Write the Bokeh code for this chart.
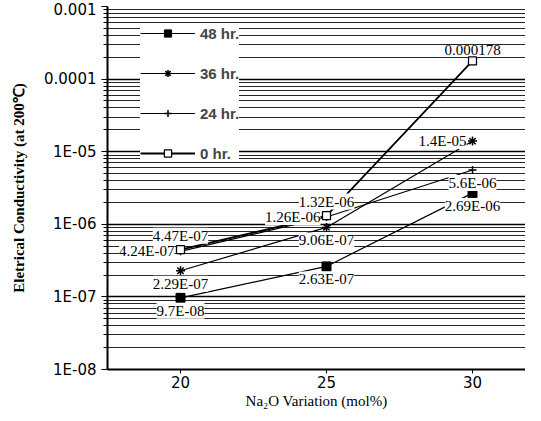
from bokeh.plotting import figure
from bokeh.models import (ColumnDataSource, LabelSet, Legend, LegendItem, FixedTicker,
                          CustomJSTickFormatter, Range1d)
from bokeh.embed import file_html
from bokeh.resources import INLINE

# ---- data ----
x_values = [20, 25, 30]
series_names = ["48 hr.", "36 hr.", "24 hr.", "0 hr."]
s48 = [9.7e-08, 2.63e-07, 2.69e-06]
s36 = [2.29e-07, 9.06e-07, 1.4e-05]
s24 = [4.24e-07, 1.26e-06, 5.6e-06]
s0 = [4.47e-07, 1.32e-06, 0.000178]
y_ticks = [1e-08, 1e-07, 1e-06, 1e-05, 1e-04, 1e-03]
y_tick_labels = ["1E-08", "1E-07", "1E-06", "1E-05", "0.0001", "0.001"]
x_ticks = [20, 25, 30]

# label placement per point (style)
place48 = ["below", "below", "below"]
place36 = ["below", "below", "left"]
place24 = ["left", "left", "below"]
place0 = ["above", "above", "above"]

FW = 418
p = figure(frame_width=FW, frame_height=363, y_axis_type="log", output_backend="svg",
           toolbar_location=None, x_range=Range1d(17.5, 17.5 + FW / 29.2),
           y_range=Range1d(1e-08, 1e-03),
           min_border_left=107, min_border_right=0, min_border_top=6, min_border_bottom=38)
p.outline_line_color = None
p.background_fill_color = "white"

# axes
minor = [k * 10.0 ** n for n in range(-8, -3) for k in range(2, 10)]
p.yaxis.ticker = FixedTicker(ticks=y_ticks, minor_ticks=minor)
p.yaxis.formatter = CustomJSTickFormatter(args=dict(tvals=y_ticks, tlabels=y_tick_labels), code="""
for (let i = 0; i < tvals.length; i++) {
  if (Math.abs(Math.log10(tick) - Math.log10(tvals[i])) < 1e-6) return tlabels[i];
}
return '';
""")
p.xaxis.ticker = FixedTicker(ticks=x_ticks, minor_ticks=[])
for ax in (p.xaxis[0], p.yaxis[0]):
    ax.axis_line_color = "black"
    ax.axis_line_width = 2
    ax.major_tick_line_color = "black"
    ax.major_tick_in = 0
    ax.major_tick_out = 6
    ax.minor_tick_in = 0
    ax.minor_tick_out = 4
    ax.minor_tick_line_color = "black"
    ax.major_label_text_font = "DejaVu Sans"
    ax.major_label_text_font_size = "15px"
    ax.major_label_text_color = "black"
    ax.axis_label_text_font = "Liberation Serif"
    ax.axis_label_text_font_size = "15px"
    ax.axis_label_text_color = "black"
p.xaxis.minor_tick_line_color = None
p.xaxis.major_tick_out = 4
p.xaxis.major_label_standoff = 2
p.yaxis.major_label_standoff = 5
p.yaxis.axis_label = "Eletrical Conductivity (at 200\u2103)"
p.yaxis.axis_label_text_font_style = "bold"
p.yaxis.axis_label_standoff = 14
p.xaxis.axis_label = "Na\u2082O Variation (mol%)"
p.xaxis.axis_label_text_font_style = "normal"
p.xaxis.axis_label_standoff = 2

# grid
p.xgrid.grid_line_color = None
p.ygrid.grid_line_color = "black"
p.ygrid.grid_line_width = 1.5
p.ygrid.minor_grid_line_color = "black"
p.ygrid.minor_grid_line_width = 1
p.ygrid.minor_grid_line_alpha = 0.85

series = [
    (s48, place48, dict(marker="square", size=9, fill_color="black", line_color="black"), 1.2),
    (s36, place36, dict(marker="asterisk", size=9, line_color="black", line_width=1.5), 1.2),
    (s24, place24, dict(marker="cross", size=8, line_color="black", line_width=1.5), 1.2),
    (s0, place0, dict(marker="square", size=8, fill_color="white", line_color="black", line_width=1.3), 1.8),
]

items = []
for name, (vals, places, mk, lw) in zip(series_names, series):
    src = ColumnDataSource(dict(x=x_values, y=vals))
    ln = p.line("x", "y", source=src, line_color="black", line_width=lw)
    sc = p.scatter("x", "y", source=src, **mk)
    items.append(LegendItem(label=name, renderers=[ln, sc]))
    for pl in ("above", "below", "left"):
        idx = [i for i, q in enumerate(places) if q == pl]
        if not idx:
            continue
        sub = ColumnDataSource(dict(x=[x_values[i] for i in idx], y=[vals[i] for i in idx],
                                    t=[f"{vals[i]:.3G}" for i in idx]))
        kw = dict(text_align="center", text_baseline="bottom", x_offset=0, y_offset=6)
        if pl == "below":
            kw = dict(text_align="center", text_baseline="top", x_offset=0, y_offset=-5)
        elif pl == "left":
            kw = dict(text_align="right", text_baseline="middle", x_offset=-6, y_offset=0)
        ls = LabelSet(x="x", y="y", text="t", source=sub, text_font="DejaVu Sans",
                      text_font_size="15px", text_color="black",
                      background_fill_color="white", **kw)
        p.add_layout(ls)

legend = Legend(items=items, location=(33, 207), orientation="vertical",
                glyph_width=55, glyph_height=18, spacing=22, padding=2, margin=0,
                label_standoff=5, label_text_font="Liberation Sans",
                label_text_font_style="bold", label_text_font_size="15px",
                background_fill_color="white", background_fill_alpha=1,
                border_line_color=None)
p.add_layout(legend, "center")

open("out.html", "w").write(file_html(p, INLINE))
